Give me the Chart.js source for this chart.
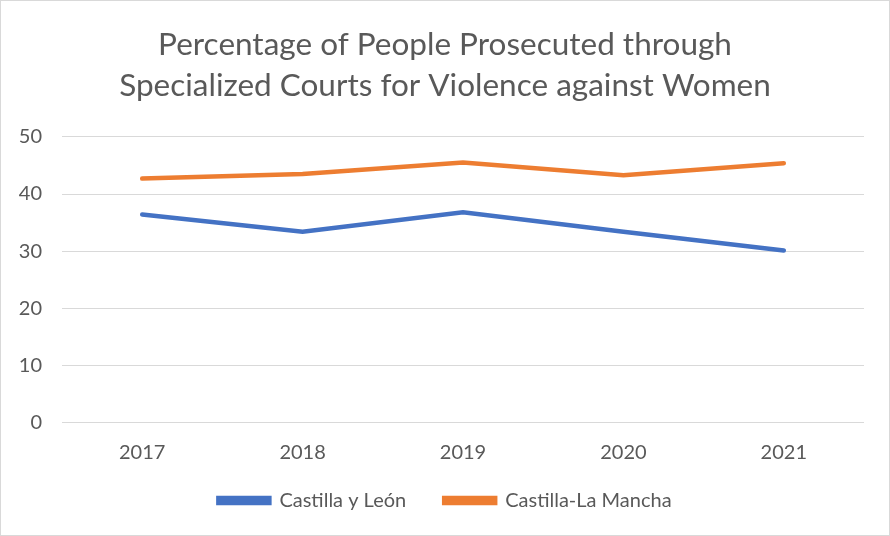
<!DOCTYPE html>
<html>
<head>
<meta charset="utf-8">
<script src="https://cdn.jsdelivr.net/npm/chart.js@4"></script>
<style>
  html, body { margin: 0; padding: 0; background: #fff; }
  #wrap { position: relative; width: 890px; height: 536px; box-sizing: border-box; border: 1px solid #d9d9d9; }
</style>
</head>
<body>
<div id="wrap"><canvas id="chart" width="888" height="534"></canvas></div>
<script>
// data
const years = ['2017', '2018', '2019', '2020', '2021'];
const castillaLeon = [36.4, 33.4, 36.8, 33.4, 30.1];
const castillaLaMancha = [42.7, 43.5, 45.5, 43.3, 45.4];
const yTicks = [0, 10, 20, 30, 40, 50];

const TEXT = '#595959';
const FONT = "Lato, 'Open Sans', sans-serif";

new Chart(document.getElementById('chart'), {
  type: 'line',
  data: {
    labels: years,
    datasets: [
      {
        label: 'Castilla y León',
        data: castillaLeon,
        borderColor: '#4472C4',
        backgroundColor: '#4472C4',
        borderWidth: 4.5,
        borderCapStyle: 'round',
        pointRadius: 0,
        tension: 0,
      },
      {
        label: 'Castilla-La Mancha',
        data: castillaLaMancha,
        borderColor: '#ED7D31',
        backgroundColor: '#ED7D31',
        borderWidth: 4.5,
        borderCapStyle: 'round',
        pointRadius: 0,
        tension: 0,
      },
    ],
  },
  options: {
    responsive: false,
    animation: false,
    layout: { padding: { left: 0, right: 0, top: 23, bottom: 14.5 } },
    plugins: {
      title: {
        display: true,
        text: ['Percentage of People Prosecuted through', 'Specialized Courts for Violence against Women'],
        color: TEXT,
        font: { family: FONT, size: 31.5, weight: 'normal', lineHeight: 1.3 },
        padding: { top: 0, bottom: 31 },
      },
      legend: {
        position: 'bottom',
        labels: {
          color: TEXT,
          font: { family: FONT, size: 20 },
          boxWidth: 51,
          boxHeight: 5,
          padding: 38,
        },
      },
      tooltip: { enabled: false },
    },
    scales: {
      y: {
        min: 0,
        max: 50,
        afterBuildTicks: (scale) => { scale.ticks = yTicks.map(v => ({ value: v })); },
        afterFit: (scale) => { scale.width = 61; },
        ticks: { color: TEXT, font: { family: FONT, size: 20 }, padding: 20 },
        grid: { color: '#d9d9d9', lineWidth: 1, drawTicks: false },
        border: { display: false },
      },
      // empty right-hand gutter so the title stays centred on the canvas
      gutter: {
        type: 'linear',
        axis: 'y',
        position: 'right',
        afterFit: (scale) => { scale.width = 25; },
        ticks: { display: false },
        grid: { display: false, drawTicks: false },
        border: { display: false },
      },
      x: {
        offset: true,
        afterFit: (scale) => {
          scale.height = 30;
          scale._computeLabelArea = () => undefined; // don't clip labels to the shortened box
        },
        ticks: { color: TEXT, font: { family: FONT, size: 20 }, padding: 18 },
        grid: { display: false, drawTicks: false },
        border: { display: false },
      },
    },
  },
});
</script>
</body>
</html>
